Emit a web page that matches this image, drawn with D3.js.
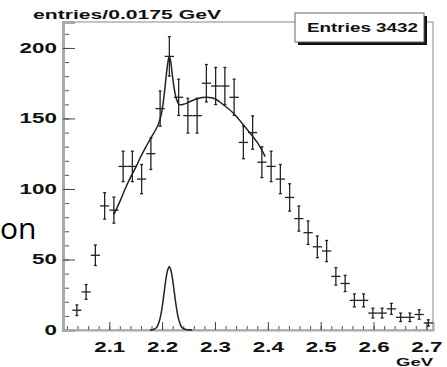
<!DOCTYPE html>
<html>
<head>
<meta charset="utf-8">
<script src="https://cdn.jsdelivr.net/npm/d3@7"></script>
<style>
  body { margin: 0; background: #fff; }
  svg { display: block; }
  text.lab { font-family: "Liberation Sans", Arial, sans-serif; font-weight: bold; fill: #111; }
</style>
</head>
<body>
<div id="chart"></div>
<script>
// histogram: 40 bins of 0.0175 GeV starting at 2.0125
const binStart = 2.0125;
const binWidth = 0.0175;
const counts = [0, 14, 27, 53, 88, 85, 116, 116, 107, 125,
                157, 194, 165, 152, 152, 175, 173, 173, 165, 133,
                140, 119, 116, 107, 94, 79, 69, 59, 56, 38,
                33, 21, 21, 12, 12, 15, 9, 9, 11, 5];

// total fit curve
const fitX = [2.109, 2.120, 2.130, 2.140, 2.151, 2.161, 2.171, 2.180, 2.188, 2.194,
              2.199, 2.204, 2.208, 2.211, 2.2136, 2.216, 2.219, 2.223, 2.227, 2.232,
              2.240, 2.253, 2.266, 2.285, 2.300, 2.315, 2.334, 2.357, 2.380, 2.395];
const fitY = [82, 91, 100, 108, 116, 124, 131, 137, 142, 147,
              154, 167, 181, 190, 194, 191, 182, 171, 164, 160,
              160, 162, 164, 165, 164, 160, 154, 144, 133, 123];

// signal gaussian component
const gausX = [2.177, 2.185, 2.190, 2.196, 2.200, 2.204, 2.208, 2.211, 2.2136,
               2.216, 2.219, 2.223, 2.227, 2.231, 2.237, 2.243, 2.257];
const gausY = [0, 0.5, 2, 8, 16, 27, 38, 43, 45,
               43, 38, 27, 16, 8, 2, 0.5, 0];

const yMajor = [0, 50, 100, 150, 200];
const xMajor = [2.1, 2.2, 2.3, 2.4, 2.5, 2.6, 2.7];

const W = 447, H = 367;
const padL = 63, padR = 433, padT = 22, padB = 330;

const svg = d3.select('#chart').append('svg')
    .attr('width', W)
    .attr('height', H);

svg.append('rect').attr('width', W).attr('height', H).attr('fill', '#fff');

const x = d3.scaleLinear().domain([binStart, binStart + 40 * binWidth]).range([padL, padR]);
const y = d3.scaleLinear().domain([0, 218.4]).range([padB, padT]);

// frame
svg.append('rect')
    .attr('x', padL).attr('y', padT)
    .attr('width', padR - padL).attr('height', padB - padT)
    .attr('fill', 'none')
    .attr('stroke', '#b4b4b4')
    .attr('stroke-width', 1.6);

// y axis: minor then major
const yMinor = d3.range(0, 211, 10);
svg.append('g')
    .attr('transform', `translate(${padL},0)`)
    .call(d3.axisLeft(y).tickValues(yMinor).tickSize(-6).tickFormat(''))
    .call(g => g.select('.domain').remove())
    .call(g => g.selectAll('line').attr('stroke', '#555'));

const yAxis = svg.append('g')
    .attr('transform', `translate(${padL},0)`)
    .call(d3.axisLeft(y).tickValues(yMajor).tickSize(-12).tickPadding(0))
    .call(g => g.select('.domain').attr('stroke', '#aaa').attr('stroke-width', 3))
    .call(g => g.selectAll('line').attr('stroke', '#444'));
yAxis.selectAll('text')
    .attr('class', 'lab')
    .attr('font-size', 14)
    .attr('x', -3.8)
    .attr('transform', 'scale(1.6,1)');

// x axis
const xMinor = d3.range(2.02, 2.705, 0.02);
svg.append('g')
    .attr('transform', `translate(0,${padB})`)
    .call(d3.axisBottom(x).tickValues(xMinor).tickSize(-4).tickFormat(''))
    .call(g => g.select('.domain').remove())
    .call(g => g.selectAll('line').attr('stroke', '#555'));

const xAxis = svg.append('g')
    .attr('transform', `translate(0,${padB})`)
    .call(d3.axisBottom(x).tickValues(xMajor).tickSize(-8).tickFormat(d3.format('.1f')))
    .call(g => g.select('.domain').attr('stroke', '#aaa').attr('stroke-width', 2))
    .call(g => g.selectAll('line').attr('stroke', '#444'));
xAxis.selectAll('text')
    .attr('class', 'lab')
    .attr('font-size', 14)
    .attr('y', 22)
    .attr('dy', null)
    .attr('transform', 'scale(1.6,1)');

// titles
svg.append('text')
    .attr('class', 'lab')
    .attr('x', 33).attr('y', 19)
    .attr('font-size', 12)
    .attr('textLength', 188)
    .attr('lengthAdjust', 'spacingAndGlyphs')
    .text('entries/0.0175 GeV');

svg.append('text')
    .attr('class', 'lab')
    .attr('x', 396).attr('y', 366)
    .attr('font-size', 11)
    .attr('textLength', 37)
    .attr('lengthAdjust', 'spacingAndGlyphs')
    .text('GeV');

// stats box
svg.append('rect')
    .attr('x', 298).attr('y', 16)
    .attr('width', 129).attr('height', 29)
    .attr('fill', '#111');
svg.append('rect')
    .attr('x', 295).attr('y', 13)
    .attr('width', 129).attr('height', 29)
    .attr('fill', '#fff')
    .attr('stroke', '#666')
    .attr('stroke-width', 1);
svg.append('text')
    .attr('class', 'lab')
    .attr('x', 307).attr('y', 32)
    .attr('font-size', 13)
    .attr('textLength', 111)
    .attr('lengthAdjust', 'spacingAndGlyphs')
    .text('Entries 3432');

// leftover slide text
svg.append('text')
    .attr('x', 0).attr('y', 239)
    .style('font-family', '"Open Sans", sans-serif')
    .style('font-weight', 'normal')
    .style('font-size', '30px')
    .attr('fill', '#000')
    .text('on');

// data points with errors
const pts = counts.map((c, i) => ({ c: binStart + (i + 0.5) * binWidth, n: c }))
    .filter(d => d.n > 0);

const pg = svg.append('g')
    .attr('stroke', '#222')
    .attr('stroke-width', 1.3)
    .attr('fill', 'none');

pts.forEach(d => {
    const e = Math.sqrt(d.n);
    const cx = x(d.c);
    pg.append('line')
        .attr('x1', x(d.c - binWidth / 2)).attr('x2', x(d.c + binWidth / 2))
        .attr('y1', y(d.n)).attr('y2', y(d.n));
    pg.append('line')
        .attr('x1', cx).attr('x2', cx)
        .attr('y1', y(d.n - e)).attr('y2', y(d.n + e));
    pg.append('line')
        .attr('x1', cx - 1.5).attr('x2', cx + 1.5)
        .attr('y1', y(d.n + e)).attr('y2', y(d.n + e));
    pg.append('line')
        .attr('x1', cx - 1.5).attr('x2', cx + 1.5)
        .attr('y1', y(d.n - e)).attr('y2', y(d.n - e));
});

// fit curves
const line = d3.line()
    .x(d => x(d[0]))
    .y(d => y(d[1]))
    .curve(d3.curveCatmullRom);

svg.append('path')
    .datum(d3.zip(fitX, fitY))
    .attr('d', line)
    .attr('fill', 'none')
    .attr('stroke', '#222')
    .attr('stroke-width', 1.5);

svg.append('path')
    .datum(d3.zip(gausX, gausY))
    .attr('d', line)
    .attr('fill', 'none')
    .attr('stroke', '#222')
    .attr('stroke-width', 1.5);
</script>
</body>
</html>
